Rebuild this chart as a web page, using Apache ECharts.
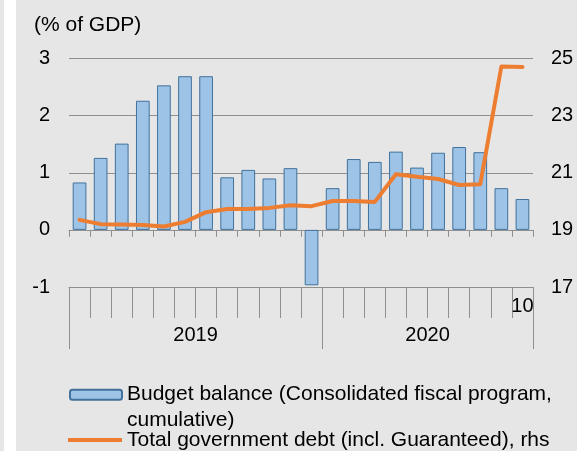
<!DOCTYPE html>
<html>
<head>
<meta charset="utf-8">
<script src="https://cdn.jsdelivr.net/npm/echarts@6/dist/echarts.min.js"></script>
<style>
html,body{margin:0;padding:0;}
body{width:577px;height:451px;background:linear-gradient(to right,#e6e6e6 0,#e6e6e6 4px,#ffffff 4px,#ffffff 16px,#e6e6e6 16px);}
#chart{width:577px;height:451px;}
</style>
</head>
<body>
<div id="chart"></div>
<script>
var months = ['1','2','3','4','5','6','7','8','9','10','11','12','1','2','3','4','5','6','7','8','9','10'];
var years = ['2019', '2020'];
var yearStart = [0, 12, 22];
var yearMid = [6, 17];
var budgetBalance = [0.83,1.26,1.51,2.26,2.53,2.69,2.69,0.92,1.05,0.90,1.08,-0.97,0.73,1.24,1.19,1.37,1.09,1.35,1.45,1.36,0.73,0.54];
var govDebt = [19.35,19.2,19.19,19.17,19.12,19.28,19.62,19.73,19.73,19.77,19.86,19.83,20.01,20.01,19.98,20.95,20.86,20.78,20.57,20.6,24.72,24.7];
var leftTicks = {min:-1, max:3, interval:1};
var rightTicks = {min:17, max:25, interval:2};
var budgetName = 'Budget balance (Consolidated fiscal program,\ncumulative)';
var debtName = 'Total government debt (incl. Guaranteed), rhs';
var unitLabel = '(% of GDP)';

var FONT = '"Liberation Sans", Arial, sans-serif';
var axisGray = '#8f8f8f';
var chart = echarts.init(document.getElementById('chart'), null, {renderer:'canvas'});
chart.setOption({
  backgroundColor: 'transparent',
  animation: false,
  textStyle: {fontFamily: FONT},
  title: {text: unitLabel, left: 34, top: 15, padding: 0,
    textStyle: {fontFamily: FONT, fontSize: 21, fontWeight: 'normal', color: '#000'}},
  grid: {left: 69, right: 44, top: 58.5, bottom: 164, containLabel: false},
  legend: [{
    data: [budgetName], orient: 'vertical', left: 69, top: 358.6, padding: 0,
    itemWidth: 52, itemHeight: 10, itemGap: 0,
    formatter: function(name){
      var parts = name.split('\n');
      return '{s| }\n' + parts.map(function(p){ return '{t|' + p + '}'; }).join('\n');
    },
    textStyle: {fontFamily: FONT, fontSize: 21, color: '#000',
      rich: {s: {fontSize: 21, lineHeight: 25.6}, t: {fontFamily: FONT, fontSize: 21, color: '#000', lineHeight: 25.6}}}
  },{
    data: [{name: debtName, icon: 'rect'}], orient: 'vertical', left: 68, top: 429.5, padding: 0,
    itemWidth: 54, itemHeight: 4, itemGap: 0,
    textStyle: {fontFamily: FONT, fontSize: 21, color: '#000', lineHeight: 21}
  }],
  xAxis: [{
    type: 'category', data: months, position: 'bottom',
    axisLine: {onZero: true, lineStyle: {color: axisGray, width: 1}},
    axisTick: {show: true, interval: 0, length: 7, lineStyle: {color: axisGray}},
    axisLabel: {show: false}, splitLine: {show: false}
  },{
    type: 'category', data: months, position: 'bottom',
    axisLine: {onZero: false, lineStyle: {color: axisGray, width: 1}},
    axisTick: {show: true, interval: 0, length: 31, lineStyle: {color: axisGray}},
    axisLabel: {show: true, interval: function(i){return i === months.length - 1;}, margin: 9,
      fontFamily: FONT, fontSize: 20, color: '#000'},
    splitLine: {show: false}
  },{
    type: 'value', min: 0, max: months.length, position: 'bottom',
    axisLine: {show: false, onZero: false},
    axisTick: {show: true, length: 62, customValues: yearStart, lineStyle: {color: axisGray}},
    axisLabel: {show: true, customValues: yearMid, margin: 38, fontFamily: FONT, fontSize: 20, color: '#000',
      formatter: function(v){ return years[yearMid.indexOf(v)]; }},
    splitLine: {show: false}
  }],
  yAxis: [{
    type: 'value', min: leftTicks.min, max: leftTicks.max, interval: leftTicks.interval,
    axisLine: {show: false}, axisTick: {show: false},
    axisLabel: {margin: 19, fontFamily: FONT, fontSize: 20, color: '#000'},
    splitLine: {show: true, lineStyle: {color: axisGray, width: 1}}
  },{
    type: 'value', min: rightTicks.min, max: rightTicks.max, interval: rightTicks.interval, position: 'right',
    axisLine: {show: false}, axisTick: {show: false},
    axisLabel: {margin: 18, fontFamily: FONT, fontSize: 20, color: '#000'},
    splitLine: {show: false}
  }],
  series: [{
    name: budgetName, type: 'bar', xAxisIndex: 0, yAxisIndex: 0, data: budgetBalance,
    barCategoryGap: '35%',
    itemStyle: {color: '#9dc3e6', borderColor: '#41719c', borderWidth: 1}
  },{
    name: debtName, type: 'line', xAxisIndex: 0, yAxisIndex: 1, data: govDebt,
    symbol: 'none', smooth: false, z: 5,
    lineStyle: {color: '#ed7d31', width: 4, cap: 'round', join: 'round'},
    itemStyle: {color: '#ed7d31'}
  }]
});
</script>
</body>
</html>
